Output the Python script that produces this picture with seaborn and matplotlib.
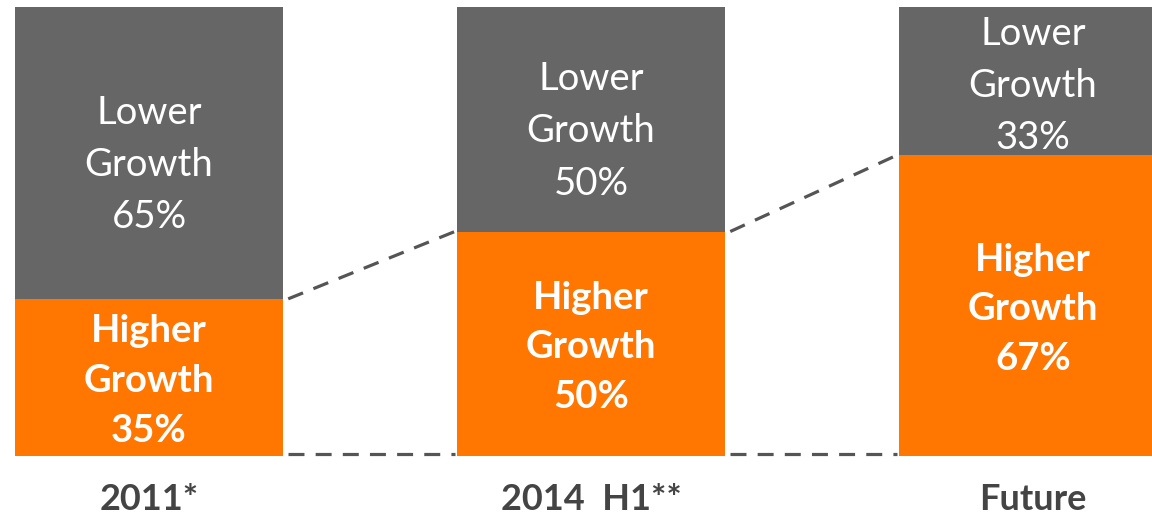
import matplotlib
matplotlib.use("Agg")
import matplotlib.pyplot as plt
import seaborn as sns
import pandas as pd

categories = ["2011*", "2014  H1**", "Future"]
higher = [35, 50, 67]
lower = [65, 50, 33]

GRAY = "#666666"
ORANGE = "#FF7600"

sns.set_theme(style="white")
plt.rcParams["font.family"] = ["Lato", "DejaVu Sans"]

fig = plt.figure(figsize=(11.52, 5.19), dpi=100)
ax = fig.add_axes([0, 0, 1, 1])

df = pd.DataFrame({"cat": categories, "higher": higher, "lower": lower})
df["total"] = df["higher"] + df["lower"]

W = 0.606
sns.barplot(data=df, x="cat", y="total", color=GRAY, width=W, saturation=1,
            ax=ax, linewidth=0)
sns.barplot(data=df, x="cat", y="higher", color=ORANGE, width=W, saturation=1,
            ax=ax, linewidth=0)

# connecting dashed lines
for i in range(len(categories) - 1):
    x0 = i + W / 2 + 0.012
    x1 = i + 1 - W / 2 - 0.005
    ax.plot([x0, x1], [higher[i], higher[i + 1]], ls=(0, (5, 3.5)), color="#555555", lw=2.3)
    ax.plot([x0, x1], [0.5, 0.5], ls=(0, (5, 3.5)), color="#555555", lw=2.3)

for i in range(len(categories)):
    ymid_h = higher[i] / 2 - 0.8
    ymid_l = higher[i] + lower[i] / 2 - (2.7 if lower[i] > 40 else 1.1)
    ax.text(i, ymid_l, f"Lower\nGrowth\n{lower[i]}%", ha="center", va="center",
            color="white", fontsize=27.5, fontweight="normal", linespacing=1.56)
    ax.text(i, ymid_h, f"Higher\nGrowth\n{higher[i]}%", ha="center", va="center",
            color="white", fontsize=27.5, fontweight="bold", linespacing=1.56)
    ax.text(i, -9.6, categories[i], ha="center", va="center", color="#444444",
            fontsize=26, fontweight="bold")

ax.set_xlim(-0.337, 2.269)
ax.set_ylim(-14.03, 101.56)
ax.set_axis_off()

fig.savefig("out.png", dpi=100)
